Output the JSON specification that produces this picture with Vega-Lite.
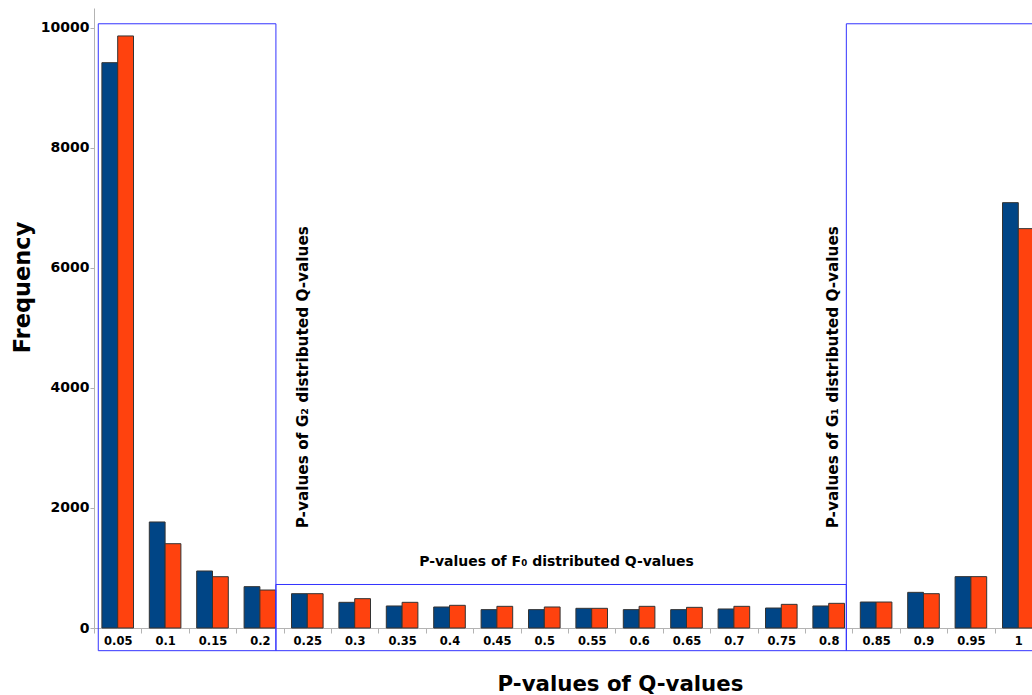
{
  "$schema": "https://vega.github.io/schema/vega-lite/v6.json",
  "width": 938,
  "height": 620,
  "autosize": {"type": "none"},
  "padding": {"left": 94, "right": 0, "top": 8, "bottom": 67},
  "background": "white",
  "config": {"view": {"stroke": null}, "font": "DejaVu Sans"},
  "datasets": {
    "bars": [
      {"p": "0.05", "series": "Series 1", "freq": 9422}, {"p": "0.05", "series": "Series 2", "freq": 9867},
      {"p": "0.1", "series": "Series 1", "freq": 1767}, {"p": "0.1", "series": "Series 2", "freq": 1405},
      {"p": "0.15", "series": "Series 1", "freq": 950}, {"p": "0.15", "series": "Series 2", "freq": 855},
      {"p": "0.2", "series": "Series 1", "freq": 689}, {"p": "0.2", "series": "Series 2", "freq": 633},
      {"p": "0.25", "series": "Series 1", "freq": 572}, {"p": "0.25", "series": "Series 2", "freq": 572},
      {"p": "0.3", "series": "Series 1", "freq": 428}, {"p": "0.3", "series": "Series 2", "freq": 489},
      {"p": "0.35", "series": "Series 1", "freq": 367}, {"p": "0.35", "series": "Series 2", "freq": 428},
      {"p": "0.4", "series": "Series 1", "freq": 350}, {"p": "0.4", "series": "Series 2", "freq": 378},
      {"p": "0.45", "series": "Series 1", "freq": 306}, {"p": "0.45", "series": "Series 2", "freq": 361},
      {"p": "0.5", "series": "Series 1", "freq": 306}, {"p": "0.5", "series": "Series 2", "freq": 350},
      {"p": "0.55", "series": "Series 1", "freq": 328}, {"p": "0.55", "series": "Series 2", "freq": 328},
      {"p": "0.6", "series": "Series 1", "freq": 306}, {"p": "0.6", "series": "Series 2", "freq": 361},
      {"p": "0.65", "series": "Series 1", "freq": 306}, {"p": "0.65", "series": "Series 2", "freq": 344},
      {"p": "0.7", "series": "Series 1", "freq": 317}, {"p": "0.7", "series": "Series 2", "freq": 361},
      {"p": "0.75", "series": "Series 1", "freq": 333}, {"p": "0.75", "series": "Series 2", "freq": 394},
      {"p": "0.8", "series": "Series 1", "freq": 367}, {"p": "0.8", "series": "Series 2", "freq": 411},
      {"p": "0.85", "series": "Series 1", "freq": 433}, {"p": "0.85", "series": "Series 2", "freq": 433},
      {"p": "0.9", "series": "Series 1", "freq": 594}, {"p": "0.9", "series": "Series 2", "freq": 572},
      {"p": "0.95", "series": "Series 1", "freq": 856}, {"p": "0.95", "series": "Series 2", "freq": 856},
      {"p": "1", "series": "Series 1", "freq": 7089}, {"p": "1", "series": "Series 2", "freq": 6656}
    ],
    "boxes": [
      {"x0": 0.0295, "x1": 0.2169, "y0": -378, "y1": 10070},
      {"x0": 0.2169, "x1": 0.8186, "y0": -378, "y1": 725},
      {"x0": 0.8186, "x1": 1.3, "y0": -378, "y1": 10070}
    ],
    "vlabels": [
      {"x": 0.2458, "y": 4180, "label": "P-values of G₂ distributed Q-values"},
      {"x": 0.8049, "y": 4180, "label": "P-values of G₁ distributed Q-values"}
    ],
    "hlabels": [
      {"x": 0.5129, "y": 1105, "label": "P-values of F₀ distributed Q-values"}
    ]
  },
  "layer": [
    {
      "data": {"name": "bars"},
      "mark": {"type": "bar", "stroke": "#333333", "strokeWidth": 1},
      "encoding": {
        "x": {
          "field": "p", "type": "nominal", "sort": null,
          "scale": {"range": [0, 948], "paddingInner": 0, "paddingOuter": 0},
          "axis": {
            "title": "P-values of Q-values",
            "labelAngle": 0,
            "tickBand": "extent",
            "labelFont": "DejaVu Sans", "labelFontWeight": "bold", "labelFontSize": 11.5, "labelColor": "#000000",
            "labelPadding": 2, "tickSize": 5, "tickColor": "#b3b3b3", "domainColor": "#b3b3b3",
            "titleFont": "DejaVu Sans", "titleFontWeight": "bold", "titleFontSize": 21.3, "titleColor": "#000000",
            "titleX": 526, "titleY": 62, "titleBaseline": "alphabetic", "titleAlign": "center",
            "grid": false
          }
        },
        "xOffset": {"field": "series", "type": "nominal", "scale": {"paddingInner": 0, "paddingOuter": 0.5}},
        "y": {
          "field": "freq", "type": "quantitative",
          "scale": {"domain": [0, 10333], "nice": false},
          "axis": {
            "title": "Frequency",
            "values": [0, 2000, 4000, 6000, 8000, 10000],
            "format": "d",
            "labelFont": "DejaVu Sans", "labelFontWeight": "bold", "labelFontSize": 14, "labelColor": "#000000",
            "labelPadding": 1, "tickSize": 4, "tickColor": "#b3b3b3", "domainColor": "#b3b3b3",
            "titleFont": "DejaVu Sans", "titleFontWeight": "bold", "titleFontSize": 22.5, "titleColor": "#000000",
            "titleX": -65, "titleY": 279, "titleBaseline": "alphabetic", "titleAlign": "center",
            "grid": false
          }
        },
        "color": {
          "field": "series", "type": "nominal",
          "scale": {"domain": ["Series 1", "Series 2"], "range": ["#004586", "#ff420e"]},
          "legend": null
        }
      }
    },
    {
      "data": {"name": "boxes"},
      "mark": {"type": "rect", "fill": "#ffffff", "fillOpacity": 0, "stroke": "#3333ff", "strokeWidth": 1},
      "encoding": {
        "x": {"field": "x0", "type": "quantitative", "scale": {"domain": [0.025, 1.025], "range": [0, 948], "nice": false, "zero": false}, "axis": null},
        "x2": {"field": "x1"},
        "y": {"field": "y0", "type": "quantitative"},
        "y2": {"field": "y1"}
      }
    },
    {
      "data": {"name": "vlabels"},
      "mark": {"type": "text", "angle": 270, "align": "center", "baseline": "middle", "font": "DejaVu Sans", "fontWeight": "bold", "fontSize": 15.3, "color": "#000000"},
      "encoding": {
        "x": {"field": "x", "type": "quantitative", "scale": {"domain": [0.025, 1.025], "range": [0, 948], "nice": false, "zero": false}, "axis": null},
        "y": {"field": "y", "type": "quantitative"},
        "text": {"field": "label"}
      }
    },
    {
      "data": {"name": "hlabels"},
      "mark": {"type": "text", "align": "center", "baseline": "middle", "font": "DejaVu Sans", "fontWeight": "bold", "fontSize": 14, "color": "#000000"},
      "encoding": {
        "x": {"field": "x", "type": "quantitative", "scale": {"domain": [0.025, 1.025], "range": [0, 948], "nice": false, "zero": false}, "axis": null},
        "y": {"field": "y", "type": "quantitative"},
        "text": {"field": "label"}
      }
    }
  ],
  "resolve": {"scale": {"x": "independent"}}
}
